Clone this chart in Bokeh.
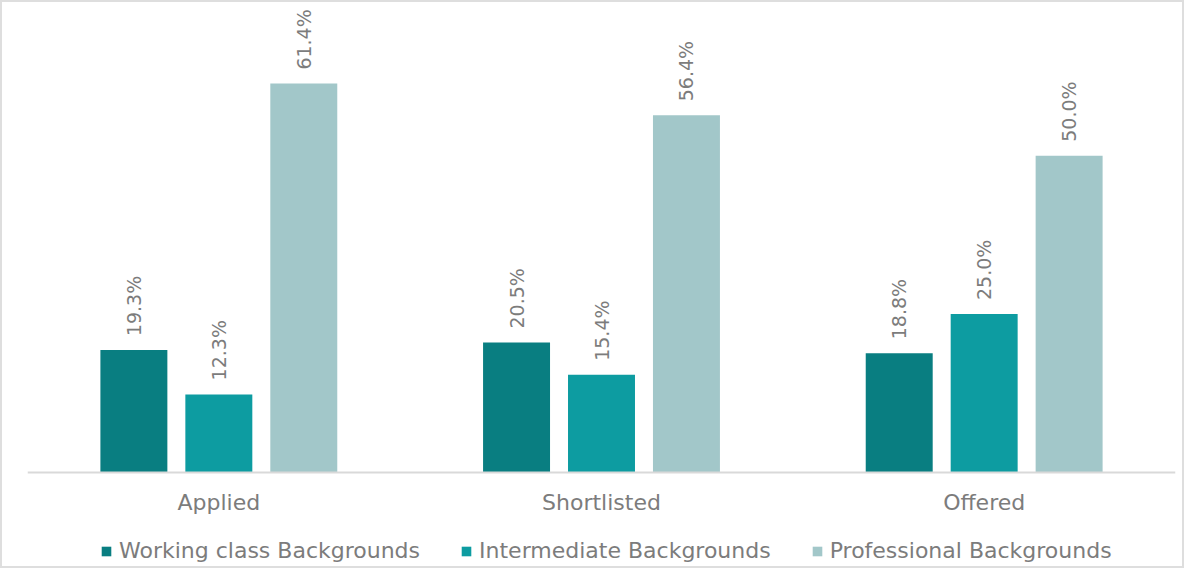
from bokeh.plotting import figure
from bokeh.models import ColumnDataSource, FactorRange, Legend, LegendItem, Range1d
from bokeh.transform import dodge
from bokeh.core.properties import value
from bokeh.embed import file_html
from bokeh.resources import INLINE
import math

categories = ["Applied", "Shortlisted", "Offered"]
series_names = ["Working class Backgrounds", "Intermediate Backgrounds", "Professional Backgrounds"]
working = [19.3, 20.5, 18.8]
intermediate = [12.3, 15.4, 25.0]
professional = [61.4, 56.4, 50.0]
colors = ["#097e81", "#0d9ca1", "#a2c7c9"]

FONT = "DejaVu Sans"
TEXT_COLOR = "#7c7c7c"

src = ColumnDataSource(dict(
    cat=categories,
    w=working, i=intermediate, pr=professional,
    wl=[f"{v:.1f}%" for v in working],
    il=[f"{v:.1f}%" for v in intermediate],
    pl=[f"{v:.1f}%" for v in professional],
))

p = figure(x_range=FactorRange(*categories), y_range=Range1d(-15.2, 73.9),
           width=1184, height=568, output_backend="svg", toolbar_location=None,
           min_border_left=25, min_border_right=11, min_border_top=2, min_border_bottom=2)

p.outline_line_color = None
p.border_fill_color = "white"

offsets = [-0.222, 0.0, 0.222]
keys = ["w", "i", "pr"]
lkeys = ["wl", "il", "pl"]
renderers = []
for off, k, lk, c in zip(offsets, keys, lkeys, colors):
    r = p.vbar(x=dodge("cat", off, range=p.x_range), top=k, width=0.175, source=src,
               fill_color=c, line_color=None)
    renderers.append(r)
    p.text(x=dodge("cat", off, range=p.x_range), y=k, text=lk, source=src,
           angle=math.pi / 2, text_align="left", text_baseline="middle",
           y_offset=-14, text_font=value(FONT), text_font_size="19px",
           text_color=TEXT_COLOR)

p.yaxis.visible = False
p.xgrid.grid_line_color = None
p.ygrid.grid_line_color = None
p.xaxis.fixed_location = 0
p.xaxis.axis_line_color = "#d9d9d9"
p.xaxis.axis_line_width = 2
p.xaxis.major_tick_line_color = None
p.xaxis.minor_tick_line_color = None
p.xaxis.major_label_text_font = FONT
p.xaxis.major_label_text_font_size = "22px"
p.xaxis.major_label_text_color = TEXT_COLOR
p.xaxis.major_label_standoff = 12

legend = Legend(items=[LegendItem(label=n, renderers=[r]) for n, r in zip(series_names, renderers)],
                orientation="horizontal", location=(73, 5),
                label_text_font=FONT, label_text_font_size="22px", label_text_color=TEXT_COLOR,
                glyph_width=12, glyph_height=12, label_standoff=7, spacing=40,
                label_height=22,
                border_line_color=None, background_fill_alpha=0, padding=0, margin=0)
p.add_layout(legend, "center")

p.styles = {"border": "2px solid #dedede"}

open("out.html", "w").write(file_html(p, INLINE))
